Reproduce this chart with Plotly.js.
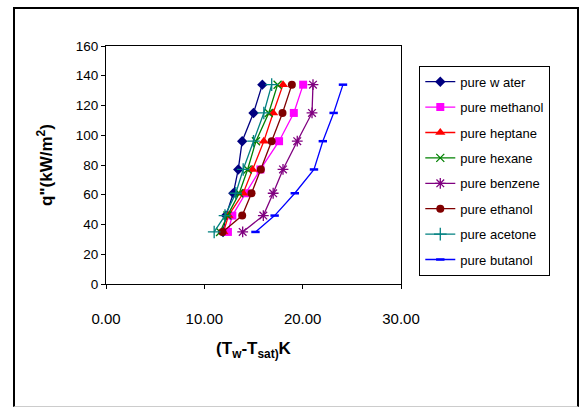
<!DOCTYPE html>
<html>
<head>
<meta charset="utf-8">
<script src="https://cdn.plot.ly/plotly-3.0.1.min.js"></script>
<style>
html,body{margin:0;padding:0;background:#fff;}
#wrap{position:relative;width:581px;height:407px;}
#chart{width:581px;height:407px;}
#frame{position:absolute;left:13px;top:7px;width:562px;height:397px;border:2px solid #000;border-bottom:1px solid #ccc;pointer-events:none;}
</style>
</head>
<body>
<div id="wrap"><div id="chart"></div><div id="frame"></div></div>
<script>
const qLevels = [35, 46, 61, 77, 96, 115, 134];

const seriesNames = ["pure w ater","pure methanol","pure heptane","pure hexane","pure benzene","pure ethanol","pure acetone","pure butanol"];

const water    = [11.9, 12.2, 12.95, 13.45, 13.85, 15.0, 15.9];
const methanol = [12.4, 12.85, 14.2, 15.7, 17.6, 19.1, 20.05];
const heptane  = [11.95, 12.45, 13.95, 14.9, 16.05, 17.0, 18.0];
const hexane   = [11.6, 12.35, 13.55, 14.4, 15.25, 16.55, 17.45];
const benzene  = [13.9, 16.0, 17.0, 18.0, 19.45, 20.95, 21.05];
const ethanol  = [11.85, 13.85, 14.8, 15.75, 16.85, 17.95, 18.9];
const acetone  = [11.0, 12.1, 13.2, 13.95, 15.0, 16.05, 16.85];
const butanol  = [15.2, 17.15, 19.2, 21.15, 22.05, 23.15, 24.1];

const xTickVals = [0, 10, 20, 30];
const xTickText = ["0.00", "10.00", "20.00", "30.00"];

const allX = [water, methanol, heptane, hexane, benzene, ethanol, acetone, butanol];
const colors = ["#000080","#FF00FF","#FF0000","#008000","#800080","#800000","#008080","#0000FF"];
const symbols = ["diamond","square","triangle-up","x-thin-open","asterisk-open","circle","cross-thin-open","line-ew-open"];
const sizes = [8, 8, 9, 8, 9, 8, 9, 6];

const traces = allX.map((xs, i) => ({
  type: "scatter",
  mode: "lines+markers",
  name: seriesNames[i],
  legendgroup: "g" + i,
  x: xs,
  y: qLevels,
  line: {color: colors[i], width: 1.3},
  marker: {
    symbol: symbols[i],
    size: sizes[i],
    color: colors[i],
    line: {color: colors[i], width: (i===3||i===4||i===6) ? 1.3 : (i===7 ? 2.5 : 0)}
  }
}));

const layout = {
  width: 581, height: 407,
  margin: {l: 105.5, r: 180, t: 46, b: 123},
  paper_bgcolor: "#fff",
  plot_bgcolor: "#fff",
  font: {family: "Liberation Sans, Arial, sans-serif", size: 13, color: "#000"},
  showlegend: true,
  legend: {
    x: 1.062, y: 0.917, xanchor: "left", yanchor: "top",
    bordercolor: "#000", borderwidth: 1,
    font: {family: "Liberation Sans, Arial, sans-serif", size: 13, color: "#000"},
    tracegroupgap: 5.5,
    itemwidth: 30
  },
  xaxis: {
    range: [0, 30],
    tickvals: xTickVals, ticktext: xTickText,
    ticks: "outside", ticklen: 4, tickcolor: "#000",
    showline: true, linecolor: "#000", linewidth: 1, mirror: true,
    showgrid: false, zeroline: false,
    ticklabelstandoff: 17,
    tickfont: {size: 15},
    title: {text: "<b>(T<sub>w</sub>-T<sub>sat)</sub>K</b>", font: {size: 17}, standoff: 16}
  },
  yaxis: {
    range: [0, 160],
    dtick: 20,
    ticks: "outside", ticklen: 4, tickcolor: "#000",
    showline: true, linecolor: "#000", linewidth: 1, mirror: true,
    showgrid: false, zeroline: false,
    tickfont: {size: 13.5},
    title: {text: "<b>q\"(kW/m<sup>2</sup>)</b>", font: {size: 17}, standoff: 18}
  }
};

Plotly.newPlot("chart", traces, layout, {displayModeBar: false, staticPlot: true});
</script>
</body>
</html>
